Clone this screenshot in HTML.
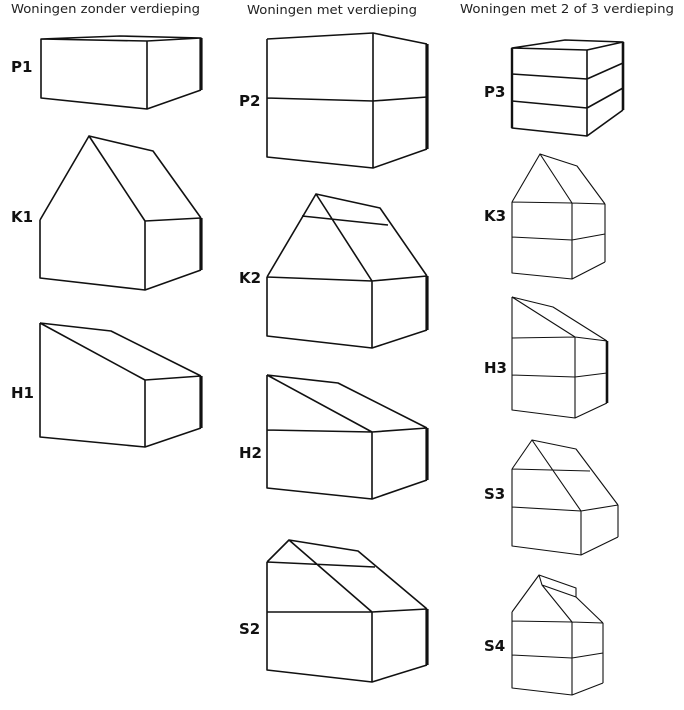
<!DOCTYPE html>
<html><head><meta charset="utf-8"><style>
html,body{margin:0;padding:0;background:#fff;width:684px;height:710px;overflow:hidden}
svg{display:block}
.h{font-family:"DejaVu Sans","Liberation Sans",sans-serif;font-size:12px;fill:#222}
.l{font-family:"DejaVu Sans","Liberation Sans",sans-serif;font-size:15px;font-weight:bold;fill:#111}
path,polyline,line{fill:none;stroke:#111;stroke-width:1.6;stroke-linejoin:round}
.t{stroke-width:1.1}
.k{stroke-width:3.2}
</style></head><body>
<svg width="684" height="710" viewBox="0 0 684 710">
<text class="h" x="11" y="13" textLength="189" lengthAdjust="spacingAndGlyphs">Woningen zonder verdieping</text>
<text class="h" x="247" y="14" textLength="170" lengthAdjust="spacingAndGlyphs">Woningen met verdieping</text>
<text class="h" x="460" y="13" textLength="214" lengthAdjust="spacingAndGlyphs">Woningen met 2 of 3 verdieping</text>

<text class="l" x="11" y="72">P1</text>
<text class="l" x="11" y="222">K1</text>
<text class="l" x="11" y="398">H1</text>
<text class="l" x="239" y="106">P2</text>
<text class="l" x="239" y="283">K2</text>
<text class="l" x="239" y="458">H2</text>
<text class="l" x="239" y="634">S2</text>
<text class="l" x="484" y="97">P3</text>
<text class="l" x="484" y="221">K3</text>
<text class="l" x="484" y="373">H3</text>
<text class="l" x="484" y="499">S3</text>
<text class="l" x="484" y="651">S4</text>

<!-- P1 -->
<path d="M41 39 L147 41 L201 38 L120 36 Z M41 39 V98 L147 109 L201 90 M147 41 V109"/>
<line class="k" x1="201" y1="38" x2="201" y2="90"/>
<!-- K1 -->
<path d="M40 220 L89 136 L145 221 M89 136 L153 151 L201 218 M40 220 V278 L145 290 L201 270 M145 221 L201 218 M145 221 V290"/>
<line class="k" x1="201" y1="218" x2="201" y2="270"/>
<!-- H1 -->
<path d="M40 323 L111 331 L201 376 M40 323 L145 380 L201 376 M40 323 V437 L145 447 L201 428 M145 380 V447"/>
<line class="k" x1="201" y1="376" x2="201" y2="428"/>

<!-- P2 -->
<path d="M267 39 L373 33 L427 44 M267 39 V157 L373 168 L427 149 M373 33 V168 M267 98 L373 101 L427 97"/>
<line class="k" x1="427" y1="44" x2="427" y2="149"/>
<!-- K2 -->
<path d="M267 277 L316 194 L372 281 M316 194 L380 208 L427 276 M302 216 L388 225 M267 277 L372 281 L427 276 M267 277 V336 L372 348 L427 330 M372 281 V348"/>
<line class="k" x1="427" y1="276" x2="427" y2="330"/>
<!-- H2 -->
<path d="M267 375 L338 383 L427 428 M267 375 L372 432 L427 428 M267 430 L372 432 M267 375 V488 L372 499 L427 480 M372 432 V499"/>
<line class="k" x1="427" y1="428" x2="427" y2="480"/>
<!-- S2 -->
<path d="M267 562 L289 540 L372 612 M289 540 L358 551 L427 609 M267 562 L375 567 M267 612 L372 612 L427 609 M267 562 V670 L372 682 L427 665 M372 612 V682"/>
<line class="k" x1="427" y1="609" x2="427" y2="665"/>

<!-- P3 -->
<path d="M512 48 L565 40 L623 42 L587 50 Z M512 74 L587 79 L623 63 M512 101 L587 108 L623 88 M512 48 V128 L587 136 L623 110 M587 50 V136"/>
<line class="k" x1="623" y1="42" x2="623" y2="110" style="stroke-width:2.6"/>
<line class="k" x1="512" y1="48" x2="512" y2="128" style="stroke-width:2.4"/>
<!-- K3 -->
<path class="t" d="M512 202 L540 154 L572 203 M540 154 L577 166 L605 204 M512 202 L572 203 L605 204 M512 237 L572 240 L605 234 M512 202 V273 L572 279 L605 262 M572 203 V279 M605 204 V262"/>
<!-- H3 -->
<path class="t" d="M512 297 L553 307 L607 341 M512 297 L575 337 L607 341 M512 338 L575 337 M512 375 L575 377 L607 373 M512 297 V410 L575 418 L607 403 M575 337 V418"/>
<line x1="607" y1="341" x2="607" y2="403" style="stroke-width:2.6"/>
<!-- S3 -->
<path class="t" d="M512 469 L532 440 L581 511 M532 440 L576 449 L618 505 M512 469 L590 471 M512 507 L581 511 L618 505 M512 469 V546 L581 555 L618 537 M581 511 V555 M618 505 V537"/>
<!-- S4 -->
<path class="t" d="M512 612 L539 575 L576 588 L576 597 L542 585 M539 575 L542 585 L572 622 M576 597 L603 623 M512 612 V688 L572 695 L603 683 M512 621 L572 622 L603 623 M512 655 L572 658 L603 653 M572 622 V695 M603 623 V683"/>
</svg>
</body></html>
